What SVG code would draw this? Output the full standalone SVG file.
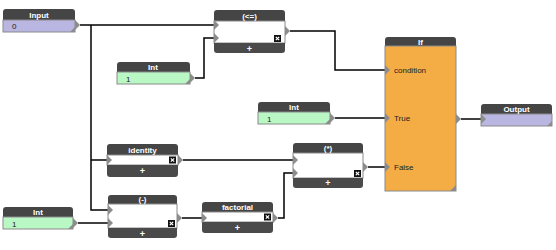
<svg xmlns="http://www.w3.org/2000/svg" width="556" height="250" viewBox="0 0 556 250">
  <style>
    .hd { fill: #454545; }
    .ft { fill: #4a4a4a; }
    .bd { stroke: #8a8a8a; stroke-width: 1; }
    .w { fill: #ffffff; }
    .g { fill: #b9f7c4; }
    .v { fill: #bab6e2; }
    .o { fill: #f4ad45; }
    .port { fill: #8c8c8c; }
    .t { font-family: "Liberation Sans", Arial, sans-serif; font-size: 8px; fill: #ffffff; text-anchor: middle; font-weight: bold; }
    .val { font-family: "Liberation Sans", Arial, sans-serif; font-size: 8px; fill: #222222; }
    .plus { font-family: "Liberation Sans", Arial, sans-serif; font-size: 9px; fill: #ffffff; text-anchor: middle; font-weight: bold; }
    .wire { fill: none; stroke: #000000; stroke-width: 1.5; }
  </style>
  <defs>
    <g id="close">
      <rect x="0" y="0" width="7" height="7" fill="#111111"/>
      <path d="M1.8 1.8 L5.2 5.2 M5.2 1.8 L1.8 5.2" stroke="#ffffff" stroke-width="1.2"/>
    </g>
  </defs>

  <rect width="556" height="250" fill="#ffffff"/>

  <!-- wires -->
  <g id="connectors">
    <path class="wire" d="M80 25 H214"/>
    <path class="wire" d="M91 25 V210 H108"/>
    <path class="wire" d="M91 160 H107"/>
    <path class="wire" d="M195 78 H204 V38 H214"/>
    <path class="wire" d="M290 31 H335 V70 H385"/>
    <path class="wire" d="M335 118 H385"/>
    <path class="wire" d="M461 119 H481"/>
    <path class="wire" d="M183 160 H293"/>
    <path class="wire" d="M368 167 H385"/>
    <path class="wire" d="M78 223 H108"/>
    <path class="wire" d="M182 218 H202"/>
    <path class="wire" d="M278 218 H284 V173 H293"/>
  </g>

  <!-- Input -->
  <g id="input">
    <path class="hd" d="M3 20 V12 Q3 9 6 9 H72 Q75 9 75 12 V20 Z"/>
    <rect class="v bd" x="3" y="20" width="72" height="12"/>
    <polygon class="port" points="75,20 80,25 75,30"/>
    <polygon class="port" points="75,32 70,32 75,27"/>
    <text class="t" x="39" y="17.5">Input</text>
    <text class="val" x="12" y="29">0</text>
  </g>

  <!-- Int (top) -->
  <g id="int1">
    <path class="hd" d="M117 72 V65 Q117 62 120 62 H187 Q190 62 190 65 V72 Z"/>
    <rect class="g bd" x="117" y="72" width="73" height="12"/>
    <polygon class="port" points="190,73 195,78 190,83"/>
    <polygon class="port" points="190,84 185,84 190,79"/>
    <text class="t" x="153" y="70">Int</text>
    <text class="val" x="126" y="81.5">1</text>
  </g>

  <!-- Int (middle) -->
  <g id="int2">
    <path class="hd" d="M258 112 V105 Q258 102 261 102 H327 Q330 102 330 105 V112 Z"/>
    <rect class="g bd" x="258" y="112" width="72" height="12"/>
    <polygon class="port" points="330,113 335,118 330,123"/>
    <polygon class="port" points="330,124 325,124 330,119"/>
    <text class="t" x="294" y="110">Int</text>
    <text class="val" x="267" y="121.5">1</text>
  </g>

  <!-- Int (bottom) -->
  <g id="int3">
    <path class="hd" d="M3 217 V210 Q3 207 6 207 H70 Q73 207 73 210 V217 Z"/>
    <rect class="g bd" x="3" y="217" width="70" height="12"/>
    <polygon class="port" points="73,218 78,223 73,228"/>
    <polygon class="port" points="73,229 68,229 73,224"/>
    <text class="t" x="38" y="215">Int</text>
    <text class="val" x="12" y="226.5">1</text>
  </g>

  <!-- (<=) -->
  <g id="le">
    <path class="hd" d="M214 21 V13 Q214 10 217 10 H282 Q285 10 285 13 V21 Z"/>
    <rect class="w bd" x="214" y="21" width="71" height="22"/>
    <path class="ft" d="M214 43 H285 V50 Q285 53 282 53 H217 Q214 53 214 50 Z"/>
    <polygon class="port" points="214,20 219,25 214,30"/>
    <polygon class="port" points="214,33 219,38 214,43"/>
    <polygon class="port" points="285,26 290,31 285,36"/>
    <use href="#close" x="274" y="35"/>
    <text class="t" x="249.5" y="18.5">(&lt;=)</text>
    <text class="plus" x="249.5" y="51.5">+</text>
  </g>

  <!-- identity -->
  <g id="identity">
    <path class="hd" d="M107 155 V147 Q107 144 110 144 H175 Q178 144 178 147 V155 Z"/>
    <rect class="w bd" x="107" y="155" width="71" height="10"/>
    <path class="ft" d="M107 165 H178 V174 Q178 177 175 177 H110 Q107 177 107 174 Z"/>
    <polygon class="port" points="107,155 112,160 107,165"/>
    <polygon class="port" points="178,155 183,160 178,165"/>
    <use href="#close" x="169" y="156.5"/>
    <text class="t" x="142.5" y="152.5">identity</text>
    <text class="plus" x="142.5" y="174">+</text>
  </g>

  <!-- (*) -->
  <g id="mul">
    <path class="hd" d="M293 153 V146 Q293 143 296 143 H360 Q363 143 363 146 V153 Z"/>
    <rect class="w bd" x="293" y="153" width="70" height="25"/>
    <path class="ft" d="M293 178 H363 V185 Q363 188 360 188 H296 Q293 188 293 185 Z"/>
    <polygon class="port" points="293,155 298,160 293,165"/>
    <polygon class="port" points="293,168 298,173 293,178"/>
    <polygon class="port" points="363,162 368,167 363,172"/>
    <use href="#close" x="354" y="170"/>
    <text class="t" x="328" y="151">(*)</text>
    <text class="plus" x="328" y="186">+</text>
  </g>

  <!-- (-) -->
  <g id="sub">
    <path class="hd" d="M108 204 V198 Q108 195 111 195 H174 Q177 195 177 198 V204 Z"/>
    <rect class="w bd" x="108" y="204" width="69" height="24"/>
    <path class="ft" d="M108 228 H177 V235 Q177 238 174 238 H111 Q108 238 108 235 Z"/>
    <polygon class="port" points="108,205 113,210 108,215"/>
    <polygon class="port" points="108,218 113,223 108,228"/>
    <polygon class="port" points="177,213 182,218 177,223"/>
    <use href="#close" x="168" y="220"/>
    <text class="t" x="142.5" y="202">(-)</text>
    <text class="plus" x="142.5" y="236.5">+</text>
  </g>

  <!-- factorial -->
  <g id="factorial">
    <path class="hd" d="M202 212 V205 Q202 202 205 202 H270 Q273 202 273 205 V212 Z"/>
    <rect class="w bd" x="202" y="212" width="71" height="10"/>
    <path class="ft" d="M202 222 H273 V230 Q273 233 270 233 H205 Q202 233 202 230 Z"/>
    <polygon class="port" points="202,213 207,218 202,223"/>
    <polygon class="port" points="273,213 278,218 273,223"/>
    <use href="#close" x="264" y="213.5"/>
    <text class="t" x="237.5" y="210">factorial</text>
    <text class="plus" x="237.5" y="230.5">+</text>
  </g>

  <!-- If -->
  <g id="if">
    <path class="hd" d="M385 46 V40 Q385 37 388 37 H453 Q456 37 456 40 V46 Z"/>
    <rect class="o bd" x="385" y="46" width="71" height="145"/>
    <polygon class="port" points="385,65 390,70 385,75"/>
    <polygon class="port" points="385,113 390,118 385,123"/>
    <polygon class="port" points="385,162 390,167 385,172"/>
    <polygon class="port" points="456,114 461,119 456,124"/>
    <polygon class="port" points="456,191 450,191 456,185"/>
    <text class="t" x="420.5" y="44.5">If</text>
    <text class="val" x="394" y="73">condition</text>
    <text class="val" x="394" y="121">True</text>
    <text class="val" x="394" y="170">False</text>
  </g>

  <!-- Output -->
  <g id="output">
    <path class="hd" d="M481 114 V107 Q481 104 484 104 H549 Q552 104 552 107 V114 Z"/>
    <rect class="v bd" x="481" y="114" width="71" height="12"/>
    <polygon class="port" points="481,114 486,119 481,124"/>
    <polygon class="port" points="552,126 547,126 552,121"/>
    <text class="t" x="516.5" y="112">Output</text>
  </g>
</svg>
